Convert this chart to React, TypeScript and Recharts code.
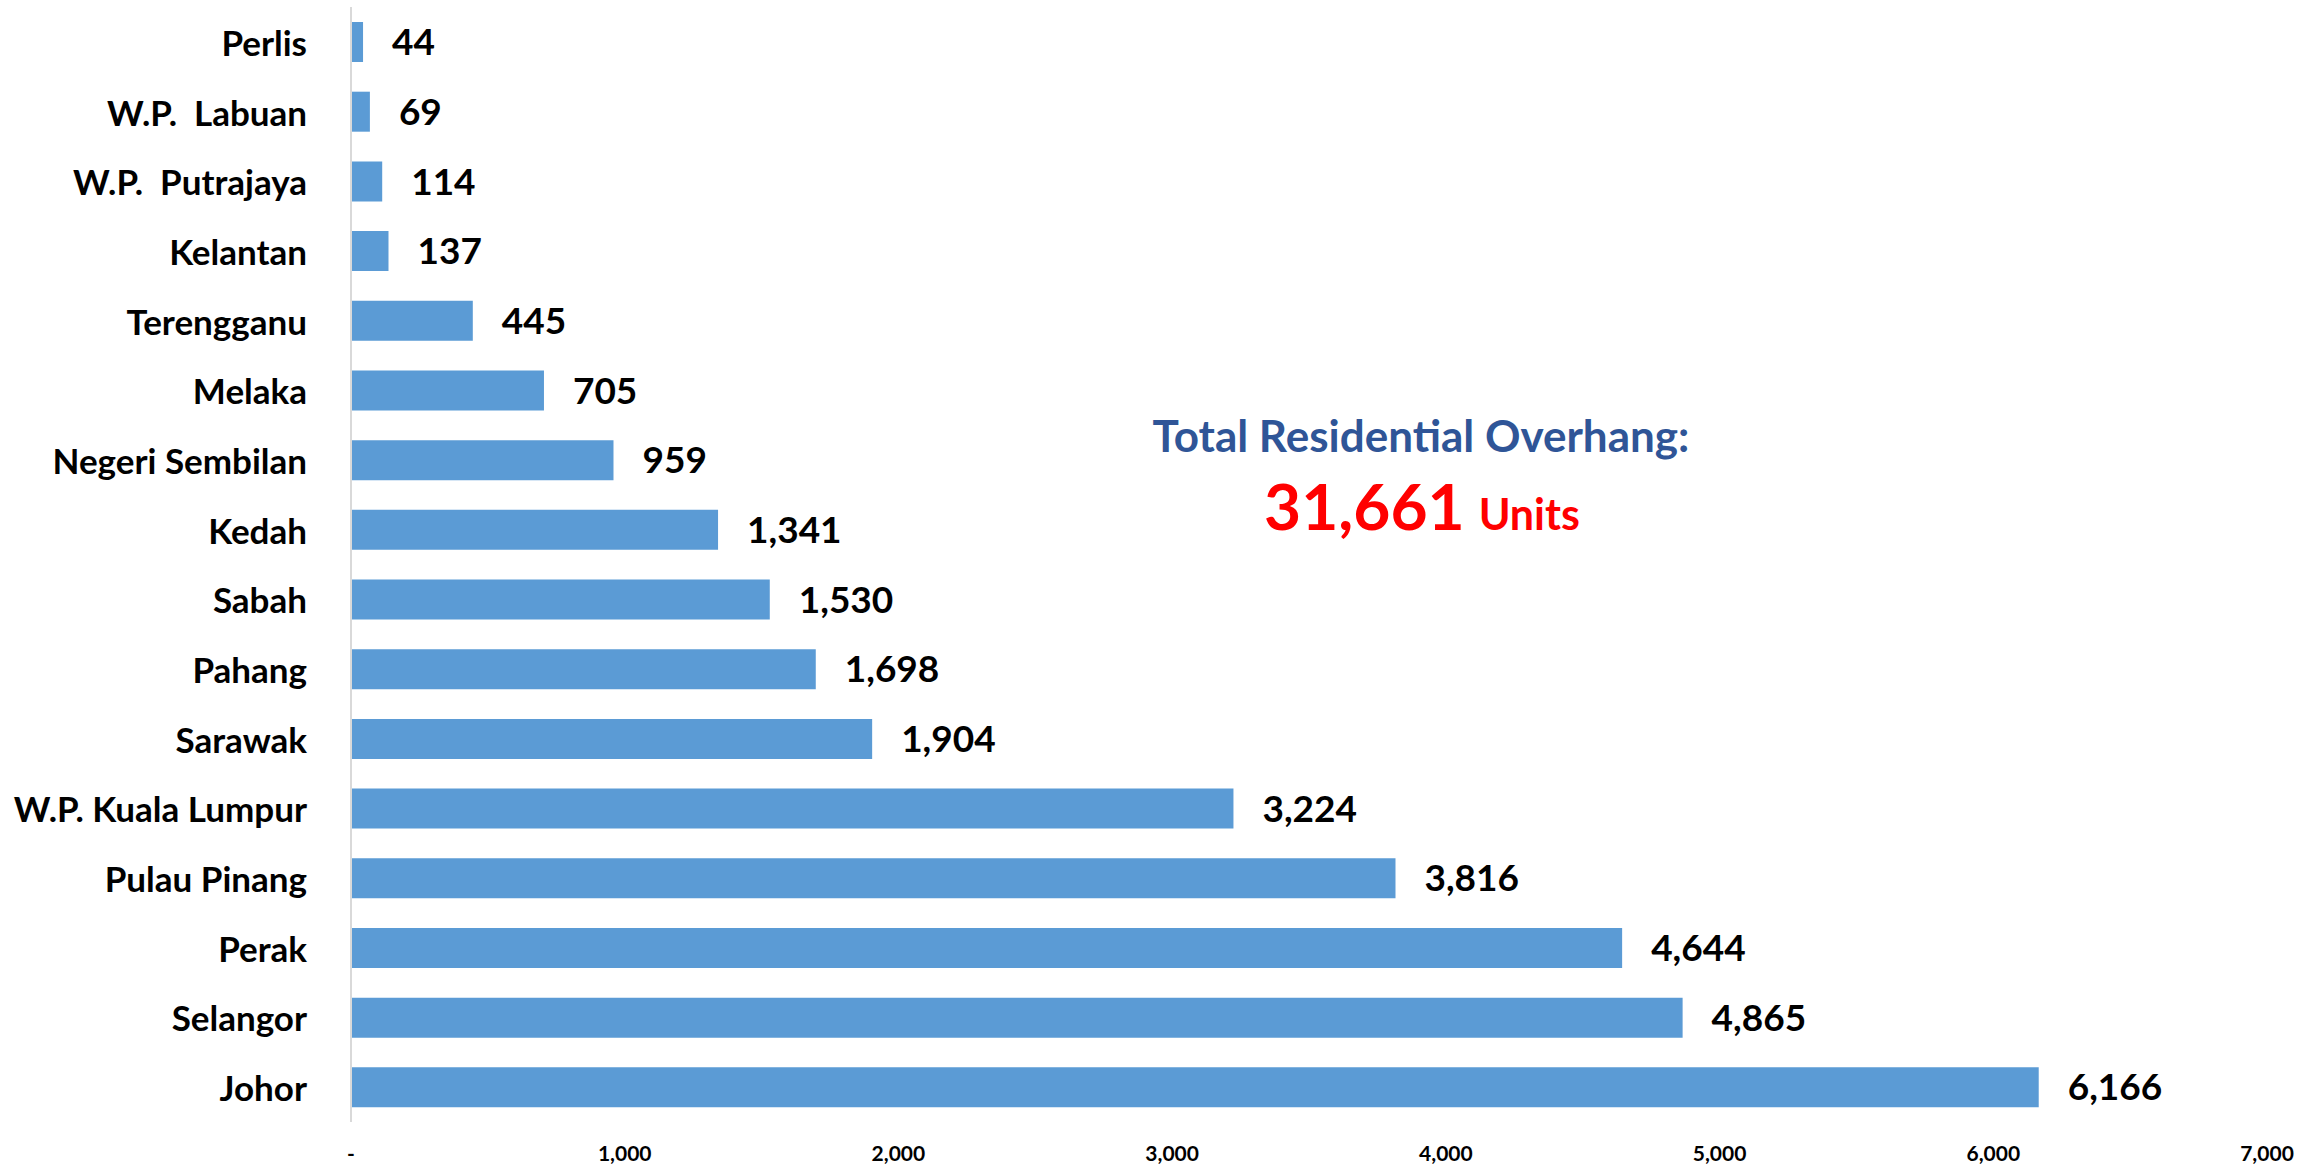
import React from "react";
import {BarChart, Bar, XAxis, YAxis, LabelList} from "recharts";

const states = [
  "Perlis",
  "W.P.  Labuan",
  "W.P.  Putrajaya",
  "Kelantan",
  "Terengganu",
  "Melaka",
  "Negeri Sembilan",
  "Kedah",
  "Sabah",
  "Pahang",
  "Sarawak",
  "W.P. Kuala Lumpur",
  "Pulau Pinang",
  "Perak",
  "Selangor",
  "Johor",
];
const units = [44, 69, 114, 137, 445, 705, 959, 1341, 1530, 1698, 1904, 3224, 3816, 4644, 4865, 6166];
const xTicks = [0, 1000, 2000, 3000, 4000, 5000, 6000, 7000];
const totalLabel = "Total Residential Overhang:";
const totalValue = "31,661";
const totalUnit = "Units";

const data = states.map((name, i) => ({name, units: units[i]}));

const FONT = "Lato, 'Open Sans', sans-serif";
const fmt = (v: number) => (v === 0 ? "-" : v.toLocaleString("en-US"));

const StateTick = (props: any) => {
  const {x, y, payload} = props;
  return (
    <text
      x={x}
      y={y}
      textAnchor="end"
      dominantBaseline="central"
      xmlSpace="preserve"
      style={{whiteSpace: "pre"}}
      fontFamily={FONT}
      fontWeight={700}
      fontSize={35}
      fill="#000"
    >
      {payload.value}
    </text>
  );
};

const App = () => {
  return (
    <div style={{position: "relative", width: 2323, height: 1164, background: "#fff"}}>
      <style>{`body{margin:0}`}</style>
      <BarChart
        width={2323}
        height={1164}
        data={data}
        layout="vertical"
        margin={{top: 7, right: 56, bottom: 0, left: 0}}
      >
        <XAxis
          type="number"
          domain={[0, 7000]}
          ticks={xTicks}
          tickFormatter={fmt}
          axisLine={false}
          tickLine={false}
          tickSize={0}
          tickMargin={24}
          height={42}
          interval={0}
          tick={{fontFamily: FONT, fontWeight: 700, fontSize: 21, fill: "#000"}}
        />
        <YAxis
          type="category"
          dataKey="name"
          width={351}
          tickLine={false}
          tickSize={0}
          tickMargin={44}
          interval={0}
          axisLine={{stroke: "#d9d9d9", strokeWidth: 2}}
          tick={<StateTick />}
        />
        <Bar dataKey="units" fill="#5B9BD5" barSize={40} isAnimationActive={false}>
          <LabelList
            dataKey="units"
            position="right"
            offset={29}
            formatter={(v: any) => Number(v).toLocaleString("en-US")}
            style={{fontFamily: FONT, fontWeight: 700, fontSize: 37, fill: "#000"}}
          />
        </Bar>
      </BarChart>
      <svg
        width={2323}
        height={1164}
        style={{position: "absolute", left: 0, top: 0, pointerEvents: "none"}}
      >
        <text x={1421} y={452} textAnchor="middle" fontFamily={FONT} fontWeight={700} fontSize={44} fill="#2F5597">
          {totalLabel}
        </text>
        <text x={1422} y={530} textAnchor="middle" fontFamily={FONT} fontWeight={700} fill="#FF0000">
          <tspan fontSize={64}>{totalValue}</tspan>
          <tspan fontSize={43} dx={14}>{totalUnit}</tspan>
        </text>
      </svg>
    </div>
  );
};

export default App;
